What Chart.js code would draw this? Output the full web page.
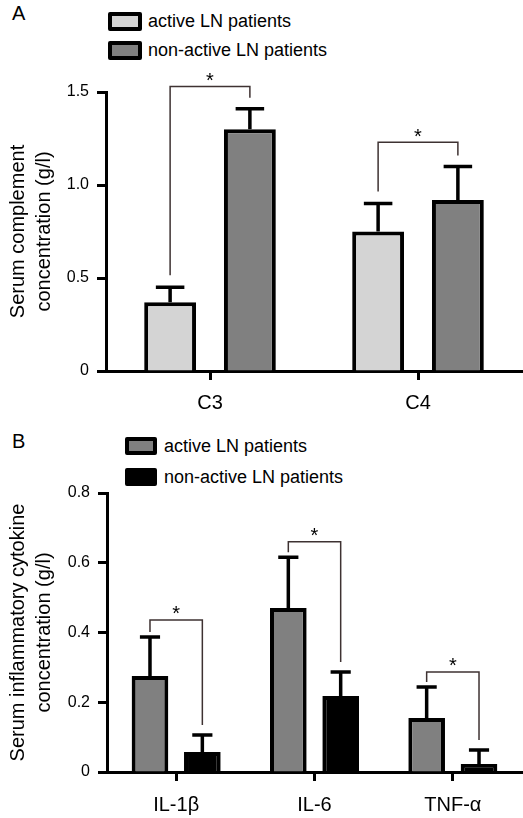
<!DOCTYPE html>
<html>
<head>
<meta charset="utf-8">
<script src="https://cdn.jsdelivr.net/npm/chart.js@4.4.1/dist/chart.umd.min.js"></script>
<style>
  body { margin: 0; background: #fff; font-family: "Liberation Sans", Arial, sans-serif; }
  #page { position: relative; width: 523px; height: 818px; overflow: hidden; }
  canvas { position: absolute; left: 0; }
  .panel { position: absolute; left: 12px; font-size: 20px; color: #000; }
  .item { position: absolute; display: flex; align-items: center; font-size: 18px; color: #000; white-space: nowrap; }
  .box { box-sizing: border-box; border: 4px solid #000; border-radius: 2px; }
</style>
</head>
<body>
<div id="page">
  <div class="panel" style="top:2px">A</div>
  <div class="panel" style="top:430px">B</div>
  <div id="legendA"></div>
  <div id="legendB"></div>
  <canvas id="chartA" width="523" height="420" style="top:0"></canvas>
  <canvas id="chartB" width="523" height="398" style="top:420px"></canvas>
</div>
<script>
// ---- panel A: serum complement ----
const catsA = ["C3", "C4"];
const seriesNames = ["active LN patients", "non-active LN patients"];
const activeA = [0.37, 0.75];
const activeA_err = [0.08, 0.15];
const nonActiveA = [1.30, 0.92];
const nonActiveA_err = [0.11, 0.18];
const bracketA = [1.53, 1.23];   // height of the significance brackets
const ticksA = [0, 0.5, 1.0, 1.5];

// ---- panel B: inflammatory cytokines ----
const catsB = ["IL-1β", "IL-6", "TNF-α"];
const activeB = [0.275, 0.47, 0.155];
const activeB_err = [0.112, 0.146, 0.089];
const nonActiveB = [0.057, 0.218, 0.023];
const nonActiveB_err = [0.049, 0.069, 0.040];
const bracketB = [0.436, 0.66, 0.287];
const ticksB = [0, 0.2, 0.4, 0.6, 0.8];

Chart.defaults.font.family = "'Liberation Sans', Arial, sans-serif";
Chart.defaults.color = "#000";

// draws upward error bars and the * brackets
const errorBars = {
  id: "errorBars",
  afterDatasetsDraw(chart, args, opts) {
    const ctx = chart.ctx;
    const y = chart.scales.y;
    const tops = [];
    ctx.save();
    ctx.strokeStyle = "#000";
    ctx.lineWidth = opts.width;
    chart.data.datasets.forEach((ds, i) => {
      const meta = chart.getDatasetMeta(i);
      tops[i] = [];
      meta.data.forEach((bar, j) => {
        const top = y.getPixelForValue(ds.data[j] + opts.errors[i][j]);
        tops[i][j] = top;
        const half = bar.width * opts.cap / 2;
        ctx.beginPath();
        ctx.moveTo(bar.x, bar.y);
        ctx.lineTo(bar.x, top);
        ctx.moveTo(bar.x - half, top);
        ctx.lineTo(bar.x + half, top);
        ctx.stroke();
      });
    });
    // significance brackets
    const m0 = chart.getDatasetMeta(0), m1 = chart.getDatasetMeta(1);
    ctx.strokeStyle = "#3e3232";
    ctx.lineWidth = 1.5;
    ctx.fillStyle = "#000";
    ctx.font = "20px 'Liberation Sans', Arial, sans-serif";
    ctx.textAlign = "center";
    ctx.textBaseline = "middle";
    opts.brackets.forEach((h, j) => {
      const by = y.getPixelForValue(h);
      const lx = m0.data[j].x, rx = m1.data[j].x;
      ctx.beginPath();
      ctx.moveTo(lx, tops[0][j] - opts.gapL);
      ctx.lineTo(lx, by);
      ctx.lineTo(rx, by);
      ctx.lineTo(rx, tops[1][j] - opts.gapR);
      ctx.stroke();
      ctx.fillText("*", (lx + rx) / 2, by - 5);
    });
    ctx.restore();
  }
};

function makeLegend(id, colors, left, top, bw, bh, step, textX) {
  const el = document.getElementById(id);
  seriesNames.forEach((name, i) => {
    const item = document.createElement("div");
    item.className = "item";
    item.style.left = left + "px";
    item.style.top = (top + i * step) + "px";
    item.style.height = bh + "px";
    const box = document.createElement("div");
    box.className = "box";
    box.style.width = bw + "px";
    box.style.height = bh + "px";
    box.style.background = colors[i];
    box.style.marginRight = (textX - left - bw) + "px";
    item.appendChild(box);
    item.appendChild(document.createTextNode(name));
    el.appendChild(item);
  });
}

function makeChart(id, cats, a, b, colors, opts) {
  return new Chart(document.getElementById(id), {
    type: "bar",
    data: {
      labels: cats,
      datasets: [
        { label: seriesNames[0], data: a, backgroundColor: colors[0], borderColor: "#000", borderWidth: 4, borderSkipped: "start" },
        { label: seriesNames[1], data: b, backgroundColor: colors[1], borderColor: "#000", borderWidth: 4, borderSkipped: "start" }
      ]
    },
    options: {
      responsive: false,
      animation: false,
      devicePixelRatio: 1,
      categoryPercentage: opts.catPct,
      barPercentage: opts.barPct,
      layout: { padding: { top: opts.top, right: 1, left: 0, bottom: 0 } },
      scales: {
        x: {
          grid: { drawOnChartArea: false, offset: false, tickLength: 9, tickWidth: 3, tickColor: "#000" },
          border: { color: "#000", width: 3 },
          ticks: { font: { size: 20 }, padding: opts.xPad, color: "#000" },
          afterFit: s => { s.height = opts.xHeight; }
        },
        y: {
          min: 0,
          max: opts.max,
          afterBuildTicks: s => { s.ticks = opts.ticks.map(v => ({ value: v })); },
          ticks: { font: { size: 16 }, padding: 8, color: "#000",
                   callback: v => v === 0 ? "0" : v.toFixed(1) },
          grid: { drawOnChartArea: false, tickLength: 9, tickWidth: 3, tickColor: "#000" },
          border: { color: "#000", width: 3 },
          title: { display: true, text: opts.title, color: "#000",
                   font: { size: 20, lineHeight: 1.3 }, padding: { top: 5, bottom: 4 } },
          afterFit: s => { s.width = opts.yWidth; }
        }
      },
      plugins: {
        legend: { display: false },
        tooltip: { enabled: false },
        errorBars: { errors: opts.errors, brackets: opts.brackets, width: 3.5, cap: 0.55, gapL: opts.gapL, gapR: opts.gapR }
      }
    },
    plugins: [errorBars]
  });
}

const colorsA = ["#d4d4d4", "#808080"];
const colorsB = ["#808080", "#000000"];

makeLegend("legendA", colorsA, 108, 12, 34, 19, 29, 148);
makeLegend("legendB", colorsB, 125, 437, 32, 18, 31, 164);

makeChart("chartA", catsA, activeA, nonActiveA, colorsA, {
  catPct: 0.767, barPct: 0.65, top: 92, xHeight: 49, xPad: 11, yWidth: 106,
  max: 1.5, ticks: ticksA, title: ["Serum complement", "concentration (g/l)"],
  errors: [activeA_err, nonActiveA_err], brackets: bracketA, gapL: 12, gapR: 11
});

makeChart("chartB", catsB, activeB, nonActiveB, colorsB, {
  catPct: 0.757, barPct: 0.70, top: 73, xHeight: 46, xPad: 12, yWidth: 107,
  max: 0.8, ticks: ticksB, title: ["Serum inflammatory cytokine", "concentration (g/l)"],
  errors: [activeB_err, nonActiveB_err], brackets: bracketB, gapL: 5, gapR: 10
});
</script>
</body>
</html>
